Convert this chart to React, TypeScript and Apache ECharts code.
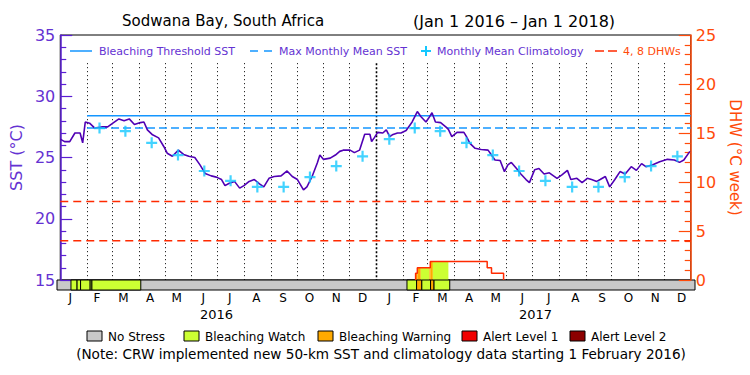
import React, { useEffect, useRef } from "react";
import * as echarts from "echarts";

const FONT = "DejaVu Sans";

// Daily SST (day index since 1 Jan 2016, °C)
const sst2016: [number, number][] = [
  [0, 26.5], [5, 26.3], [11, 26.3], [17, 27.0], [23, 27.0], [26, 26.2], [29, 27.9], [34, 27.8],
  [40, 27.4], [49, 27.5], [55, 27.5], [61, 27.8], [68, 28.15], [74, 28.0], [80, 28.15], [86, 27.7],
  [93, 27.85], [97, 27.9], [101, 27.25], [107, 26.85], [114, 26.6], [120, 25.9], [124, 25.35], [130, 25.1],
  [137, 25.6], [143, 25.25], [149, 25.1], [156, 25.0], [162, 24.4], [168, 23.7], [175, 23.5], [181, 23.4],
  [187, 23.2], [191, 22.7], [196, 22.9], [202, 23.05], [208, 22.5], [213, 22.7], [219, 23.05], [225, 23.2],
  [231, 22.85], [236, 22.6], [242, 23.3], [248, 23.45], [256, 23.5], [263, 23.9], [269, 23.45], [275, 23.2],
  [282, 22.35], [286, 22.6], [292, 23.45], [298, 24.55], [301, 25.2], [305, 24.85], [313, 24.95], [319, 25.2],
  [324, 25.5], [328, 25.6], [336, 25.6], [341, 25.4], [347, 25.6], [353, 26.9], [359, 26.9], [361, 26.3],
  [364, 26.6],
];
const sst2017: [number, number][] = [
  [368, 27.05], [374, 27.0], [378, 27.25], [382, 26.7], [385, 26.85], [391, 27.0], [395, 27.0], [401, 27.2],
  [408, 27.9], [414, 28.75], [418, 28.35], [424, 27.9], [427, 28.2], [431, 28.65], [435, 27.9], [441, 27.85],
  [447, 27.5], [450, 27.3], [454, 26.7], [460, 27.05], [468, 27.05], [471, 26.7], [475, 26.15], [481, 25.75],
  [488, 25.65], [496, 25.6], [500, 25.2], [504, 24.8], [510, 24.75], [515, 23.85], [519, 24.4], [523, 24.6],
  [529, 24.1], [534, 23.65], [540, 23.2], [544, 22.95], [550, 24.0], [555, 24.1], [561, 23.65], [567, 23.75],
  [576, 23.3], [582, 23.6], [588, 23.95], [592, 23.2], [599, 23.3], [605, 22.95], [611, 23.3], [616, 23.2],
  [622, 23.05], [626, 23.2], [632, 23.45], [637, 22.6], [643, 23.2], [649, 23.85], [655, 23.65], [662, 24.25],
  [668, 23.95], [674, 24.5], [679, 24.25], [687, 24.4], [695, 24.65], [704, 24.85], [712, 24.8], [718, 24.6],
  [723, 24.8], [730, 25.5],
];

// Monthly mean climatology, Jan..Dec (°C)
const climatology = [26.5, 27.4, 27.15, 26.2, 25.2, 23.9, 23.1, 22.6, 22.6, 23.4, 24.3, 25.1];
const MMM = 27.4;
const BLEACHING_THRESHOLD = 28.4;
const DHW_LEVELS = [4, 8];

// Degree heating weeks: day of change and value after change
const dhwChangeDays = [412, 414, 429, 495, 500, 514];
const dhwChangeValues = [0.7, 1.26, 1.9, 1.26, 0.7, 0];

// Bleaching alert status periods (day start, day end, level)
const statusStart = [16, 23, 27, 38, 40, 401, 412, 418, 428, 432];
const statusEnd = [23, 27, 38, 40, 96, 412, 418, 428, 432, 450];
const statusLevel = [1, 1, 1, 1, 1, 1, 2, 1, 2, 1];
const statusNames = ["No Stress", "Bleaching Watch", "Bleaching Warning", "Alert Level 1", "Alert Level 2"];
const statusColors = ["#c8c8c8", "#ccff33", "#ffaa00", "#f00000", "#8c0000"];

const monthLetters = ["J", "F", "M", "A", "M", "J", "J", "A", "S", "O", "N", "D"];
const years = ["2016", "2017"];

const PURPLE = "#5a1ed2";
const PURPLE_TXT = "#6432d2";
const ORANGE = "#ff4b0a";
const BLUE = "#1496ff";
const CYAN = "#14c8ff";
const SST_COLOR = "#5000b4";
const DHW_RED = "#ff2a00";
const LINE_TOP = 32.7;

const dayOf = (y: number, m: number, d: number) =>
  Math.round((Date.UTC(y, m, d) - Date.UTC(2016, 0, 1)) / 86400000);
const TOTAL = dayOf(2018, 0, 1);
const CLIM_START = dayOf(2016, 1, 1);

function txt(x: number, y: number, text: string, size: number, fill: string, align = "left") {
  return {
    type: "text",
    x,
    y,
    silent: true,
    style: {
      text,
      fill,
      font: `${size}px "${FONT}"`,
      align,
      verticalAlign: "middle",
      textAlign: align,
      textVerticalAlign: "middle",
    },
  };
}
function seg(x1: number, y1: number, x2: number, y2: number, stroke: string, width = 1.5, dash?: number[]) {
  return {
    type: "line",
    silent: true,
    shape: { x1, y1, x2, y2 },
    style: { stroke, lineWidth: width, lineDash: dash },
  };
}

export default function App() {
  const ref = useRef<HTMLDivElement>(null);
  useEffect(() => {
    if (!ref.current) return;
    const chart = echarts.init(ref.current, undefined, { renderer: "svg" });

    const boundaries: number[][] = [];
    for (const y of [2016, 2017]) {
      for (let m = 0; m < 12; m++) {
        if (y === 2016 && m === 0) continue;
        boundaries.push([dayOf(y, m, 1), 15, m === 0 ? 1 : 0]);
      }
    }
    const climPoints: number[][] = [];
    for (const y of [2016, 2017]) {
      for (let m = 0; m < 12; m++) {
        if (y === 2016 && m === 0) continue;
        climPoints.push([(dayOf(y, m, 1) + dayOf(y, m + 1, 1)) / 2, climatology[m]]);
      }
    }
    const dhwLine: number[][] = [];
    let prev = 0;
    dhwChangeDays.forEach((d, i) => {
      dhwLine.push([d, prev]);
      dhwLine.push([d, dhwChangeValues[i]]);
      prev = dhwChangeValues[i];
    });
    const fills: number[][] = [];
    statusStart.forEach((s, k) => {
      const e = statusEnd[k];
      for (let i = 0; i < dhwChangeDays.length - 1; i++) {
        const v = dhwChangeValues[i];
        if (v <= 0) continue;
        const a = Math.max(s, dhwChangeDays[i]);
        const b = Math.min(e, dhwChangeDays[i + 1]);
        if (b > a) fills.push([a, v, b, statusLevel[k]]);
      }
    });
    const statusData = statusStart.map((s, k) => [s, 1, statusEnd[k], statusLevel[k]]);
    const monthCats: string[] = [];
    years.forEach(() => monthLetters.forEach((l) => monthCats.push(l)));

    const legendBoxes: any[] = [];
    const boxX = [87, 184, 318, 462, 570];
    statusNames.forEach((n, i) => {
      legendBoxes.push({
        type: "rect",
        silent: true,
        shape: { x: boxX[i], y: 331, width: 15, height: 10 },
        style: { fill: statusColors[i], stroke: "#000", lineWidth: 1 },
      });
      legendBoxes.push(txt(boxX[i] + 21, 336.5, n, 12, "#000"));
    });

    const option: any = {
      animation: false,
      textStyle: { fontFamily: FONT },
      grid: [
        { left: 57, top: 35, width: 638, height: 245, show: true, borderColor: "#000", borderWidth: 1, backgroundColor: "transparent" },
        { left: 57, top: 280, width: 638, height: 10, show: true, borderColor: "#000", borderWidth: 1, backgroundColor: "#c8c8c8" },
      ],
      xAxis: [
        { type: "value", gridIndex: 0, min: 0, max: TOTAL, show: false },
        { type: "value", gridIndex: 1, min: 0, max: TOTAL, show: false },
        {
          type: "category", gridIndex: 1, position: "bottom", data: monthCats, boundaryGap: true,
          axisLine: { show: false }, axisTick: { show: false },
          axisLabel: { color: "#000", fontSize: 12, margin: 2, interval: 0, fontFamily: FONT },
        },
        {
          type: "category", gridIndex: 1, position: "bottom", offset: 16, data: years, boundaryGap: true,
          axisLine: { show: false }, axisTick: { show: false },
          axisLabel: { color: "#000", fontSize: 13, margin: 2, interval: 0, fontFamily: FONT },
        },
      ],
      yAxis: [
        {
          type: "value", gridIndex: 0, position: "left", min: 15, max: 35, interval: 5,
          axisLine: { show: true, lineStyle: { color: PURPLE, width: 1.5 } },
          axisTick: { show: true, inside: true, length: 12, lineStyle: { color: PURPLE, width: 1.2 } },
          minorTick: { show: true, splitNumber: 5, length: 6, lineStyle: { color: PURPLE, width: 1.2 } },
          axisLabel: { color: PURPLE_TXT, fontSize: 16, margin: 5, fontFamily: FONT },
          splitLine: { show: false },
          name: "SST (°C)", nameLocation: "middle", nameGap: 32,
          nameTextStyle: { color: PURPLE_TXT, fontSize: 16, fontFamily: FONT },
        },
        {
          type: "value", gridIndex: 0, position: "right", min: 0, max: 25, interval: 5,
          axisLine: { show: true, lineStyle: { color: ORANGE, width: 1.5 } },
          axisTick: { show: true, inside: true, length: 12, lineStyle: { color: ORANGE, width: 1.2 } },
          minorTick: { show: true, splitNumber: 5, length: 6, lineStyle: { color: ORANGE, width: 1.2 } },
          axisLabel: { color: ORANGE, fontSize: 16, margin: 5, fontFamily: FONT },
          splitLine: { show: false },
          name: "DHW (°C week)", nameLocation: "middle", nameGap: 34, nameRotate: -90,
          nameTextStyle: { color: ORANGE, fontSize: 15, fontFamily: FONT },
        },
        { type: "value", gridIndex: 1, min: 0, max: 1, show: false },
      ],
      series: [
        {
          type: "custom", name: "months", xAxisIndex: 0, yAxisIndex: 0, z: 1, silent: true,
          data: boundaries,
          renderItem: (params: any, api: any) => {
            const d = api.value(0);
            const heavy = api.value(2) === 1;
            const p0 = api.coord([d, LINE_TOP]);
            const p1 = api.coord([d, api.value(1)]);
            const x = Math.round(p0[0]) + 0.5;
            return {
              type: "line",
              shape: { x1: x, y1: p0[1], x2: x, y2: p1[1] },
              style: { stroke: "#000", lineWidth: heavy ? 1.6 : 1, lineDash: heavy ? [2, 2] : [1, 3] },
            };
          },
        },
        ...DHW_LEVELS.map((lv) => ({
          type: "line", name: `${lv} DHW`, xAxisIndex: 0, yAxisIndex: 1, z: 2, silent: true,
          data: [[0, lv], [TOTAL, lv]], symbol: "none",
          lineStyle: { color: DHW_RED, width: 1.5, type: [8, 5] },
        })),
        {
          type: "line", name: "Bleaching Threshold SST", xAxisIndex: 0, yAxisIndex: 0, z: 2, silent: true,
          data: [[CLIM_START, BLEACHING_THRESHOLD], [TOTAL, BLEACHING_THRESHOLD]], symbol: "none",
          lineStyle: { color: BLUE, width: 1.5 },
        },
        {
          type: "line", name: "Max Monthly Mean SST", xAxisIndex: 0, yAxisIndex: 0, z: 2, silent: true,
          data: [[CLIM_START, MMM], [TOTAL, MMM]], symbol: "none",
          lineStyle: { color: BLUE, width: 1.5, type: [8, 4] },
        },
        {
          type: "custom", name: "dhwFill", xAxisIndex: 0, yAxisIndex: 1, z: 3, silent: true,
          data: fills,
          renderItem: (params: any, api: any) => {
            const p0 = api.coord([api.value(0), api.value(1)]);
            const p1 = api.coord([api.value(2), 0]);
            return {
              type: "rect",
              shape: { x: p0[0], y: p0[1], width: p1[0] - p0[0], height: p1[1] - p0[1] },
              style: { fill: statusColors[api.value(3)] },
            };
          },
        },
        {
          type: "line", name: "DHW", xAxisIndex: 0, yAxisIndex: 1, z: 4, silent: true,
          data: dhwLine, symbol: "none",
          lineStyle: { color: DHW_RED, width: 1.5 },
        },
        {
          type: "line", name: "SST", xAxisIndex: 0, yAxisIndex: 0, z: 5, silent: true,
          data: [...sst2016, ...sst2017], symbol: "none",
          lineStyle: { color: SST_COLOR, width: 1.6 },
        },
        {
          type: "scatter", name: "Monthly Mean Climatology", xAxisIndex: 0, yAxisIndex: 0, z: 6, silent: true,
          data: climPoints, symbol: "path://M4,0h2v10h-2zM0,4h10v2h-10z", symbolSize: 11,
          itemStyle: { color: CYAN },
        },
        {
          type: "custom", name: "status", xAxisIndex: 1, yAxisIndex: 2, z: 3, silent: true,
          data: statusData,
          renderItem: (params: any, api: any) => {
            const p0 = api.coord([api.value(0), api.value(1)]);
            const p1 = api.coord([api.value(2), 0]);
            return {
              type: "rect",
              shape: { x: p0[0], y: p0[1], width: p1[0] - p0[0], height: p1[1] - p0[1] },
              style: { fill: statusColors[api.value(3)], stroke: "#000", lineWidth: 1 },
            };
          },
        },
      ],
      graphic: [
        txt(122, 21, "Sodwana Bay, South Africa", 15, "#000"),
        txt(514, 21, "(Jan 1 2016 – Jan 1 2018)", 16, "#000", "center"),
        seg(70, 51, 92, 51, BLUE, 1.5),
        txt(99, 51, "Bleaching Threshold SST", 11, PURPLE_TXT),
        seg(250, 51, 273, 51, BLUE, 1.5, [8, 6]),
        txt(279, 51, "Max Monthly Mean SST", 11, PURPLE_TXT),
        seg(421, 51, 431, 51, CYAN, 2),
        seg(426, 46, 426, 56, CYAN, 2),
        txt(437, 51, "Monthly Mean Climatology", 11, PURPLE_TXT),
        seg(595, 51, 617, 51, DHW_RED, 1.5, [9, 4]),
        txt(623, 51, "4, 8 DHWs", 11, ORANGE),
        ...legendBoxes,
        txt(381, 354, "(Note: CRW implemented new 50-km SST and climatology data starting 1 February 2016)", 13.6, "#000", "center"),
      ],
    };
    chart.setOption(option);
    return () => chart.dispose();
  }, []);
  return (
    <div
      ref={ref}
      style={{ position: "fixed", left: 0, top: 0, width: 750, height: 375, background: "#fff" }}
    />
  );
}
